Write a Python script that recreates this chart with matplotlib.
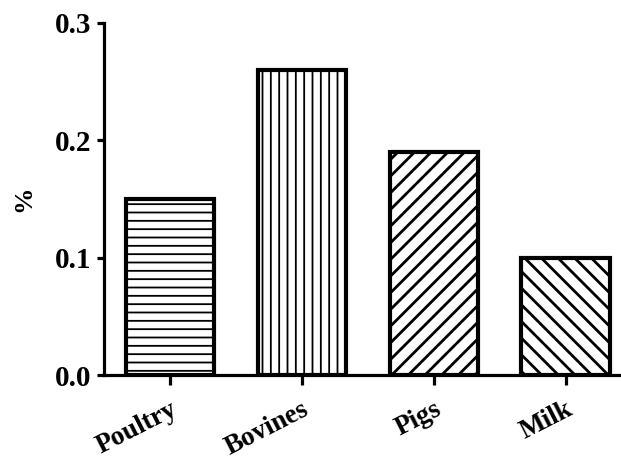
import matplotlib
matplotlib.use("Agg")
import matplotlib.pyplot as plt

categories = ["Poultry", "Bovines", "Pigs", "Milk"]
values = [0.15, 0.26, 0.19, 0.10]
hatches = ["--", "||", "//", "\\\\"]
hatch_lw = [1.3, 1.3, 2.0, 2.0]
yticks = [0.0, 0.1, 0.2, 0.3]
ytick_labels = ["0.0", "0.1", "0.2", "0.3"]

plt.rcParams['font.family'] = ['Liberation Serif', 'DejaVu Serif']
plt.rcParams['font.weight'] = 'bold'

fig = plt.figure(figsize=(6.21, 4.65), dpi=100)
ax = fig.add_axes([104/621, 1-375/465, 1-104/621, (375-23)/465])

x = list(range(len(categories)))
for i in x:
    plt.rcParams['hatch.linewidth'] = hatch_lw[i]
    b = ax.bar(x[i], values[i], width=0.67, color='white', edgecolor='black',
               linewidth=3.0, hatch=hatches[i], zorder=2)
    for p in b.patches:
        if hasattr(p, 'set_hatch_linewidth'):
            p.set_hatch_linewidth(hatch_lw[i])
        p.set_joinstyle('miter')

ax.set_xlim(-0.5, 3.42)
ax.set_ylim(0, 0.3)
ax.set_yticks(yticks)
ax.set_yticklabels(ytick_labels, fontsize=21, fontweight='bold')
ax.set_xticks(x)
ax.set_xticklabels(categories, fontsize=19.5, fontweight='bold', rotation=27,
                   ha='right', rotation_mode='anchor')
ax.set_ylabel('%', fontsize=19, fontweight='bold', labelpad=14)

for s in ['top', 'right']:
    ax.spines[s].set_visible(False)
for s in ['left', 'bottom']:
    ax.spines[s].set_linewidth(2.3)
ax.tick_params(axis='y', direction='out', length=5, width=2.3, pad=4)
ax.tick_params(axis='x', direction='out', length=7, width=2.3, pad=9)

fig.savefig('out.png', dpi=100)
